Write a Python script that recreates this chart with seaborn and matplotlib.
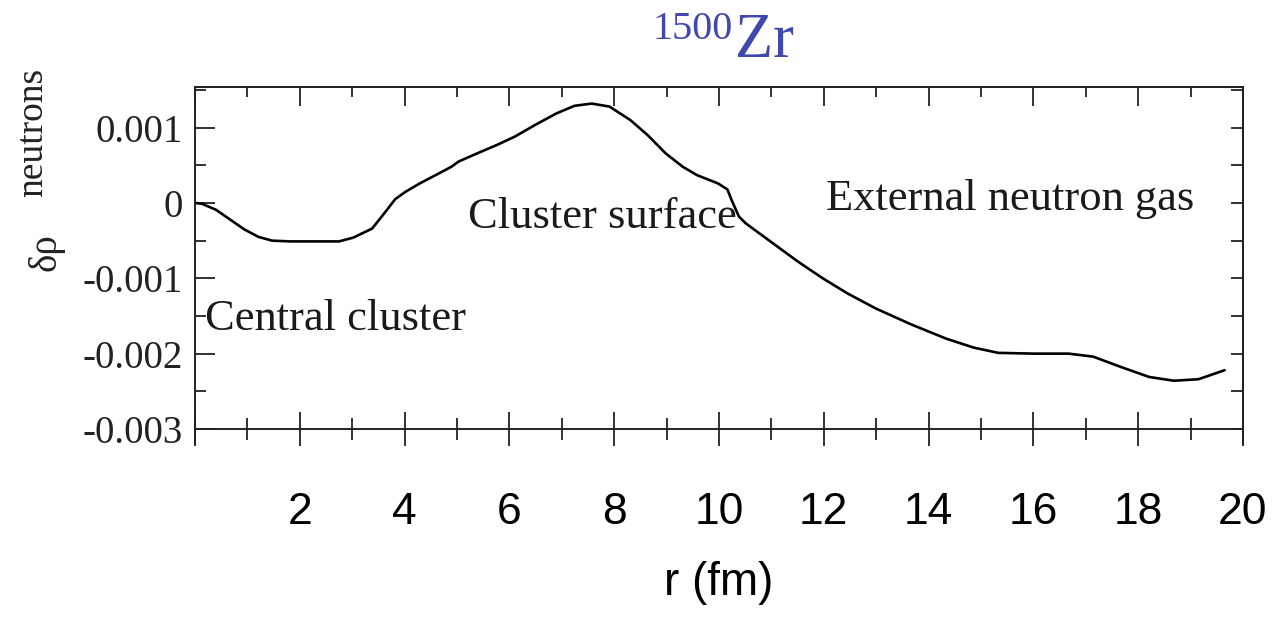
import numpy as np
import pandas as pd
import matplotlib
matplotlib.use("Agg")
import matplotlib.pyplot as plt
from matplotlib.ticker import MultipleLocator, FixedLocator, FixedFormatter
import seaborn as sns

# ---- data ----
r_fm = [0.0, 0.13, 0.40, 0.67, 0.94, 1.21, 1.47, 1.81, 2.28, 2.75,
        3.02, 3.38, 3.62, 3.82, 4.02, 4.29, 4.62, 4.89, 5.03, 5.29,
        5.76, 6.10, 6.50, 6.90, 7.24, 7.57, 7.91, 8.31, 8.64, 8.98,
        9.31, 9.58, 9.98, 10.16, 10.24, 10.38, 10.51, 10.98, 11.51, 11.98,
        12.45, 12.99, 13.66, 14.33, 14.86, 15.33, 16.0, 16.67, 17.14, 17.68,
        18.21, 18.68, 19.15, 19.65]
drho_e3 = [0.0, -0.01, -0.09, -0.22, -0.35, -0.45, -0.50, -0.51, -0.51, -0.51,
           -0.46, -0.34, -0.13, 0.05, 0.15, 0.26, 0.38, 0.48, 0.55, 0.63,
           0.77, 0.88, 1.04, 1.19, 1.29, 1.32, 1.28, 1.10, 0.90, 0.66,
           0.48, 0.37, 0.26, 0.18, 0.04, -0.18, -0.27, -0.51, -0.78, -1.00,
           -1.20, -1.40, -1.61, -1.80, -1.92, -1.99, -2.00, -2.00, -2.04, -2.18,
           -2.31, -2.36, -2.34, -2.22]
drho = [v * 1e-3 for v in drho_e3]

xtick_values = [0, 2, 4, 6, 8, 10, 12, 14, 16, 18, 20]
xtick_labels = ["", "2", "4", "6", "8", "10", "12", "14", "16", "18", "20"]
ytick_values = [-0.003, -0.002, -0.001, 0.0, 0.001]
ytick_labels = ["-0.003", "-0.002", "-0.001", "0", "0.001"]

annotations = [("Central cluster", 0.19, -0.00169),
               ("Cluster surface", 5.21, -0.00033),
               ("External neutron gas", 12.04, -0.000093)]

df = pd.DataFrame({"r": r_fm, "drho": drho})

sns.set_style("ticks")
plt.rcParams["font.family"] = ["Liberation Serif", "DejaVu Serif"]

W, H = 1280, 629
fig = plt.figure(figsize=(12.8, 6.29), dpi=100)
ax = fig.add_axes([195 / W, 1 - 444 / H, (1243 - 195) / W, (444 - 87) / H])

sns.lineplot(data=df, x="r", y="drho", sort=False, color="black", lw=1.9, ax=ax,
             solid_joinstyle="round", solid_capstyle="round")

ax.set_xlim(0, 20)
ax.set_ylim(-0.0032, 0.00154)

SP = "#222222"
for s in ax.spines.values():
    s.set_linewidth(1.4)
    s.set_color(SP)
ax.spines["bottom"].set_position(("data", -0.003))

# bottom x axis
ax.xaxis.set_major_locator(FixedLocator(xtick_values))
ax.xaxis.set_major_formatter(FixedFormatter(xtick_labels))
ax.xaxis.set_minor_locator(MultipleLocator(1))
ax.tick_params(axis="x", which="major", direction="inout", length=24.5, width=1.3,
               color=SP, pad=33, labelsize=32, labelcolor="black",
               top=False, bottom=True)
ax.tick_params(axis="x", which="minor", direction="inout", length=16, width=1.3,
               color=SP, top=False, bottom=True)
for lab in ax.get_xticklabels():
    lab.set_family(["Liberation Sans", "DejaVu Sans"])

# left y axis
ax.yaxis.set_major_locator(FixedLocator(ytick_values))
ax.yaxis.set_major_formatter(FixedFormatter(ytick_labels))
ax.yaxis.set_minor_locator(MultipleLocator(0.0005))
ax.tick_params(axis="y", which="major", direction="in", length=14.4, width=1.3,
               color=SP, pad=9, labelsize=28, labelcolor="#222222",
               left=True, right=False)
ax.tick_params(axis="y", which="minor", direction="in", length=8, width=1.3,
               color=SP, left=True, right=False)

# top ticks
axt = ax.secondary_xaxis("top")
axt.xaxis.set_major_locator(FixedLocator(xtick_values))
axt.xaxis.set_minor_locator(MultipleLocator(1))
axt.tick_params(which="major", direction="in", length=13.7, width=1.3, color=SP,
                labeltop=False)
axt.tick_params(which="minor", direction="in", length=7.2, width=1.3, color=SP)
axt.spines["top"].set_linewidth(1.4)
axt.spines["top"].set_color(SP)

# right ticks
axr = ax.secondary_yaxis("right")
axr.yaxis.set_major_locator(MultipleLocator(0.0005))
axr.yaxis.set_minor_locator(MultipleLocator(0.0005))
axr.tick_params(which="major", direction="in", length=8.6, width=1.3, color=SP,
                labelright=False)
axr.spines["right"].set_linewidth(1.4)
axr.spines["right"].set_color(SP)

ax.set_xlabel("r (fm)", family=["Liberation Sans", "DejaVu Sans"], fontsize=33,
              labelpad=20, color="black")
ax.set_ylabel("")

for txt, xx, yy in annotations:
    ax.text(xx, yy, txt, fontsize=32, ha="left", va="baseline", color="#1a1a1a")

# y label: delta rho with raised "neutrons"
fig.text(56 / W, 1 - 271 / H, "δρ", rotation=90, rotation_mode="anchor",
         ha="left", va="baseline", fontsize=28, color="#222222")
fig.text(42 / W, 1 - 197 / H, "neutrons", rotation=90, rotation_mode="anchor",
         ha="left", va="baseline", fontsize=27, color="#222222")

# title 1500Zr
BLUE = "#4048AE"
fig.text(653 / W, 1 - 39 / H, "1500", ha="left", va="baseline", fontsize=29,
         color=BLUE)
fig.text(735 / W, 1 - 57 / H, "Zr", ha="left", va="baseline", fontsize=45,
         color=BLUE)

fig.savefig("out.png", dpi=100)
